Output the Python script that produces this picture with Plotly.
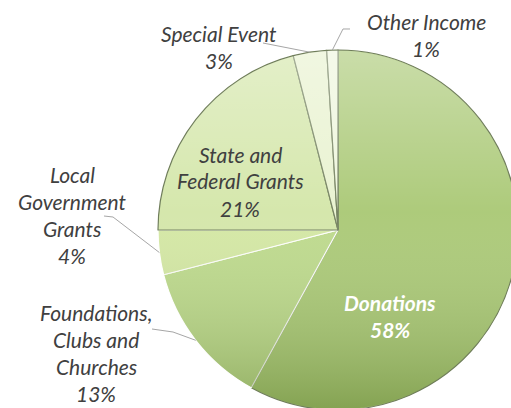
import math
import base64
import plotly.graph_objects as go

# ---- data ----
labels = ["Donations", "Foundations, Clubs and Churches", "Local Government Grants",
          "State and Federal Grants", "Special Event", "Other Income"]
shares = [58, 13, 4, 21, 3, 1]
label_lines = [["Donations", "58%"],
               ["Foundations,", "Clubs and", "Churches", "13%"],
               ["Local", "Government", "Grants", "4%"],
               ["State and", "Federal Grants", "21%"],
               ["Special Event", "3%"],
               ["Other Income", "1%"]]

# ---- style ----
colors = ["#a9c874", "#bcd98a", "#d3e7a2", "#d3e6a8", "#e8f2cf", "#eef6dc"]
line_colors = ["#6f7d5a", "#ffffff", "#ffffff", "#6f7d5a", "#6f7d5a", "#6f7d5a"]
W, H = 518, 410
CX, CY, R = 338, 230, 180
label_center = [(390, 316), (96, 353), (72, 215), (240, 181), (219, 47), (426, 35)]
label_color = ["#ffffff", "#404040", "#404040", "#404040", "#404040", "#404040"]
label_bold = [True, False, False, False, False, False]
leader = [None, [(152, 329), (173, 332)], [(104, 216), (113, 217)], None,
          [(263, 43)], [(350, 29), (343, 29)]]
LINE_H = 27
FONT = "Lato"
FS = 21


def px(x, y):
    return x / W, 1 - y / H


fig = go.Figure(go.Pie(
    labels=labels, values=shares, sort=False, direction="clockwise", rotation=0,
    marker=dict(colors=colors, line=dict(color=line_colors, width=1.2)),
    textinfo="none", hoverinfo="label+percent", showlegend=False,
    domain=dict(x=[(CX - R) / W, (CX + R) / W], y=[1 - (CY + R) / H, 1 - (CY - R) / H]),
))

# soft vertical shading over the pie (light top, darker bottom)
svg = (
    '<svg xmlns="http://www.w3.org/2000/svg" width="360" height="360" viewBox="0 0 360 360">'
    '<defs><linearGradient id="g" x1="0" y1="0" x2="0" y2="1">'
    '<stop offset="0" stop-color="#ffffff" stop-opacity="0.38"/>'
    '<stop offset="0.45" stop-color="#ffffff" stop-opacity="0.05"/>'
    '<stop offset="1" stop-color="#3d5a10" stop-opacity="0.34"/>'
    '</linearGradient></defs>'
    '<circle cx="180" cy="180" r="179.5" fill="url(#g)"/></svg>'
)
src = "data:image/svg+xml;base64," + base64.b64encode(svg.encode()).decode()

annotations = []
shapes = []
total = sum(shares)
cum = 0
for i, s in enumerate(shares):
    mid = (cum + s / 2) / total * 2 * math.pi
    cum += s
    ex, ey = CX + R * math.sin(mid), CY - R * math.cos(mid)
    lx, ly = label_center[i]
    lines = label_lines[i]
    n = len(lines)
    for k, t in enumerate(lines):
        yy = ly + (k - (n - 1) / 2) * LINE_H
        txt = f"<i>{t}</i>"
        if label_bold[i]:
            txt = f"<b>{txt}</b>"
        x0, y0 = px(lx, yy)
        annotations.append(dict(x=x0, y=y0, xref="paper", yref="paper", text=txt,
                                showarrow=False, xanchor="center", yanchor="middle",
                                font=dict(family=FONT, size=FS, color=label_color[i])))
    if leader[i]:
        pts = leader[i] + [(ex, ey)]
        path = "M " + " L ".join(f"{px(a, b)[0]:.5f},{px(a, b)[1]:.5f}" for a, b in pts)
        shapes.append(dict(type="path", path=path, xref="paper", yref="paper",
                           line=dict(color="#a6a6a6", width=1)))

fig.update_layout(width=W, height=H, margin=dict(l=0, r=0, t=0, b=0),
                  paper_bgcolor="white", plot_bgcolor="white",
                  annotations=annotations, shapes=shapes,
                  images=[dict(source=src, xref="paper", yref="paper",
                               x=(CX - R) / W, y=1 - (CY - R) / H,
                               sizex=2 * R / W, sizey=2 * R / H, sizing="stretch",
                               xanchor="left", yanchor="top", layer="above")])

fig.write_html("out.html", config={"displayModeBar": False},
               post_script="document.body.style.margin='0';document.body.style.overflow='hidden';document.documentElement.style.overflow='hidden';")
